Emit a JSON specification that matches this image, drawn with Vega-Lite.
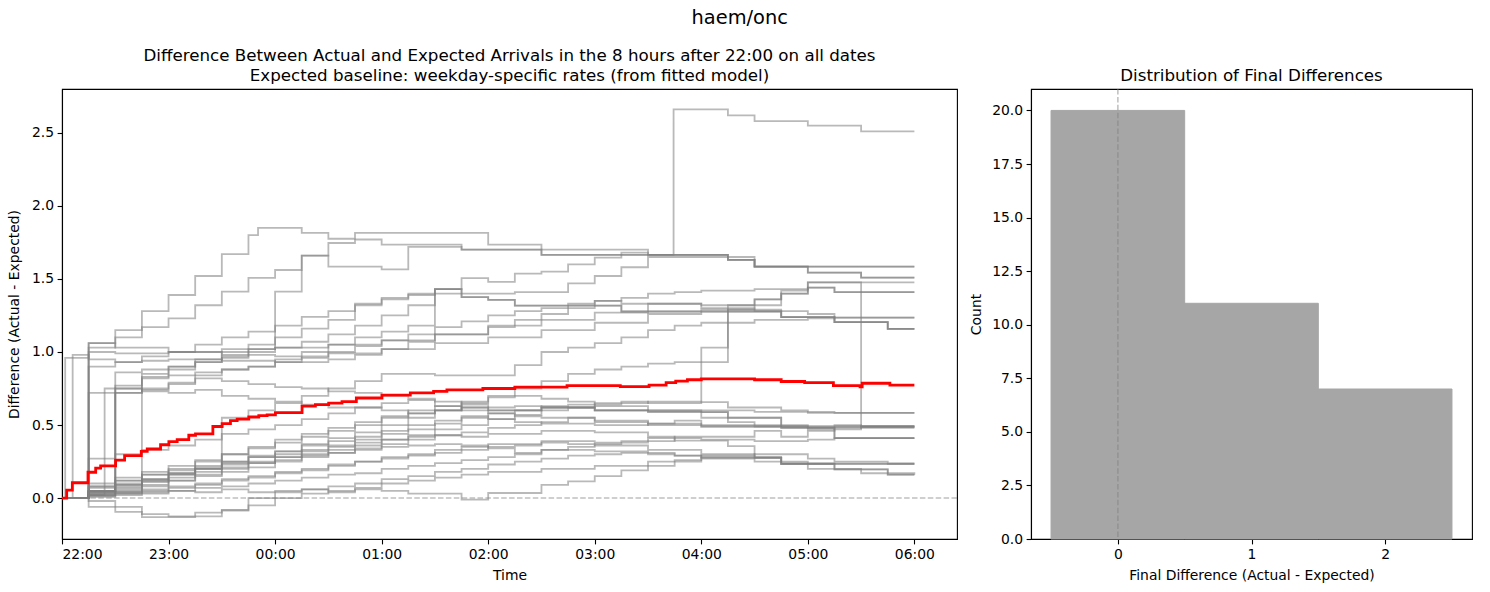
{
"$schema": "https://vega.github.io/schema/vega-lite/v6.json",
"padding": {"left": 6, "top": 8, "right": 18, "bottom": 6},
"bounds": "flush",
"spacing": 74,
"config": {
  "font": "DejaVu Sans",
  "view": {"stroke": "black", "strokeWidth": 1.1},
  "axis": {"grid": false, "domainColor": "black", "domainWidth": 1.1, "tickColor": "black", "tickWidth": 1.1, "tickSize": 4.9, "labelPadding": 3.5, "labelColor": "black", "titleColor": "black", "labelFontSize": 13.9, "titleFontSize": 13.9, "titleFontWeight": "normal", "labelFont": "DejaVu Sans", "titleFont": "DejaVu Sans"},
  "title": {"fontSize": 16.7, "fontWeight": "normal", "font": "DejaVu Sans", "color": "black"}
},
"title": {"text": "haem/onc", "fontSize": 19.4, "anchor": "middle", "fontWeight": "normal", "offset": 19},
"datasets": {
"days": [
{"d":1,"t":0,"v":0},{"d":1,"t":0.25,"v":1.06},{"d":1,"t":0.5,"v":1.15},{"d":1,"t":0.75,"v":1.28},{"d":1,"t":1,"v":1.39},{"d":1,"t":1.25,"v":1.52},{"d":1,"t":1.5,"v":1.67},{"d":1,"t":1.75,"v":1.8},{"d":1,"t":1.84,"v":1.85},{"d":1,"t":2.25,"v":1.815},{"d":1,"t":2.5,"v":1.775},{"d":1,"t":2.75,"v":1.815},{"d":1,"t":4,"v":1.735},{"d":1,"t":4.5,"v":1.7},{"d":1,"t":5.5,"v":1.665},{"d":1,"t":5.74,"v":2.66},{"d":1,"t":6.25,"v":2.62},{"d":1,"t":6.5,"v":2.58},{"d":1,"t":7,"v":2.55},{"d":1,"t":7.5,"v":2.51},{"d":1,"t":8,"v":2.51},
{"d":2,"t":0,"v":0},{"d":2,"t":0.25,"v":1.03},{"d":2,"t":0.5,"v":1.1},{"d":2,"t":0.75,"v":1.17},{"d":2,"t":1,"v":1.23},{"d":2,"t":1.25,"v":1.32},{"d":2,"t":1.5,"v":1.413},{"d":2,"t":1.75,"v":1.507},{"d":2,"t":2,"v":1.561},{"d":2,"t":2.25,"v":1.66},{"d":2,"t":2.5,"v":1.746},{"d":2,"t":2.75,"v":1.77},{"d":2,"t":3,"v":1.735},{"d":2,"t":3.75,"v":1.7},{"d":2,"t":4.5,"v":1.664},{"d":2,"t":6.25,"v":1.63},{"d":2,"t":6.5,"v":1.584},{"d":2,"t":8,"v":1.584},
{"d":3,"t":0,"v":0},{"d":3,"t":0.25,"v":0.72},{"d":3,"t":0.5,"v":0.77},{"d":3,"t":0.75,"v":0.83},{"d":3,"t":1,"v":0.88},{"d":3,"t":1.25,"v":0.93},{"d":3,"t":1.5,"v":0.97},{"d":3,"t":1.75,"v":1.02},{"d":3,"t":2,"v":1.413},{"d":3,"t":2.25,"v":1.66},{"d":3,"t":2.5,"v":1.584},{"d":3,"t":3,"v":1.565},{"d":3,"t":3.25,"v":1.72},{"d":3,"t":3.75,"v":1.7},{"d":3,"t":4.5,"v":1.664},{"d":3,"t":6.25,"v":1.63},{"d":3,"t":6.5,"v":1.584},{"d":3,"t":8,"v":1.584},
{"d":4,"t":0,"v":0},{"d":4,"t":0.25,"v":0.03},{"d":4,"t":0.5,"v":0.86},{"d":4,"t":0.75,"v":0.88},{"d":4,"t":1,"v":0.9},{"d":4,"t":1.25,"v":0.93},{"d":4,"t":1.5,"v":0.96},{"d":4,"t":1.75,"v":1.0},{"d":4,"t":2,"v":1.03},{"d":4,"t":2.25,"v":1.07},{"d":4,"t":2.5,"v":1.12},{"d":4,"t":2.75,"v":1.18},{"d":4,"t":3,"v":1.25},{"d":4,"t":3.25,"v":1.32},{"d":4,"t":3.5,"v":1.43},{"d":4,"t":3.75,"v":1.505},{"d":4,"t":4,"v":1.48},{"d":4,"t":4.25,"v":1.537},{"d":4,"t":4.5,"v":1.55},{"d":4,"t":4.75,"v":1.6},{"d":4,"t":5,"v":1.646},{"d":4,"t":5.25,"v":1.68},{"d":4,"t":5.5,"v":1.664},{"d":4,"t":6.25,"v":1.63},{"d":4,"t":6.5,"v":1.584},{"d":4,"t":7,"v":1.543},{"d":4,"t":7.5,"v":1.509},{"d":4,"t":8,"v":1.509},
{"d":5,"t":0,"v":0},{"d":5,"t":0.25,"v":0.04},{"d":5,"t":0.5,"v":0.75},{"d":5,"t":0.75,"v":0.85},{"d":5,"t":1,"v":0.9},{"d":5,"t":1.25,"v":0.95},{"d":5,"t":1.5,"v":1.0},{"d":5,"t":1.75,"v":1.05},{"d":5,"t":2,"v":1.1},{"d":5,"t":2.25,"v":1.16},{"d":5,"t":2.5,"v":1.22},{"d":5,"t":2.75,"v":1.32},{"d":5,"t":3,"v":1.37},{"d":5,"t":3.25,"v":1.39},{"d":5,"t":3.5,"v":1.4},{"d":5,"t":4.25,"v":1.41},{"d":5,"t":4.75,"v":1.47},{"d":5,"t":5,"v":1.52},{"d":5,"t":5.25,"v":1.58},{"d":5,"t":5.5,"v":1.65},{"d":5,"t":6.5,"v":1.584},{"d":5,"t":7,"v":1.543},{"d":5,"t":7.5,"v":1.509},{"d":5,"t":8,"v":1.509},
{"d":6,"t":0,"v":0},{"d":6,"t":0.25,"v":0.05},{"d":6,"t":0.5,"v":0.09},{"d":6,"t":0.75,"v":0.13},{"d":6,"t":1,"v":0.17},{"d":6,"t":1.25,"v":0.2},{"d":6,"t":1.5,"v":0.24},{"d":6,"t":1.75,"v":0.28},{"d":6,"t":2,"v":0.32},{"d":6,"t":2.25,"v":0.37},{"d":6,"t":2.5,"v":0.41},{"d":6,"t":2.75,"v":0.45},{"d":6,"t":3,"v":0.5},{"d":6,"t":3.25,"v":0.55},{"d":6,"t":3.5,"v":0.6},{"d":6,"t":3.75,"v":0.65},{"d":6,"t":4,"v":0.7},{"d":6,"t":4.25,"v":0.75},{"d":6,"t":4.5,"v":0.8},{"d":6,"t":4.75,"v":0.85},{"d":6,"t":5,"v":0.88},{"d":6,"t":5.25,"v":0.9},{"d":6,"t":5.5,"v":0.92},{"d":6,"t":5.75,"v":0.93},{"d":6,"t":6.25,"v":1.29},{"d":6,"t":6.5,"v":1.36},{"d":6,"t":6.75,"v":1.42},{"d":6,"t":7,"v":1.477},{"d":6,"t":8,"v":1.477},
{"d":7,"t":0,"v":0},{"d":7,"t":0.03,"v":0.96},{"d":7,"t":0.25,"v":1.0},{"d":7,"t":0.5,"v":0.99},{"d":7,"t":1,"v":1.0},{"d":7,"t":1.5,"v":1.02},{"d":7,"t":2,"v":1.03},{"d":7,"t":2.5,"v":1.05},{"d":7,"t":3,"v":1.08},{"d":7,"t":3.5,"v":1.12},{"d":7,"t":4,"v":1.18},{"d":7,"t":4.5,"v":1.22},{"d":7,"t":5,"v":1.27},{"d":7,"t":5.5,"v":1.33},{"d":7,"t":6,"v":1.32},{"d":7,"t":6.5,"v":1.36},{"d":7,"t":6.75,"v":1.4},{"d":7,"t":7,"v":1.44},{"d":7,"t":7.25,"v":1.41},{"d":7,"t":8,"v":1.41},
{"d":8,"t":0,"v":0},{"d":8,"t":0.1,"v":0.98},{"d":8,"t":0.25,"v":0.95},{"d":8,"t":0.5,"v":0.93},{"d":8,"t":0.75,"v":0.94},{"d":8,"t":1,"v":0.95},{"d":8,"t":1.5,"v":0.94},{"d":8,"t":2,"v":0.93},{"d":8,"t":2.5,"v":0.95},{"d":8,"t":2.75,"v":0.98},{"d":8,"t":3,"v":1.02},{"d":8,"t":3.25,"v":1.07},{"d":8,"t":3.5,"v":1.12},{"d":8,"t":4,"v":1.17},{"d":8,"t":4.25,"v":1.22},{"d":8,"t":4.5,"v":1.26},{"d":8,"t":4.75,"v":1.3},{"d":8,"t":5,"v":1.35},{"d":8,"t":5.25,"v":1.33},{"d":8,"t":6,"v":1.3},{"d":8,"t":6.5,"v":1.28},{"d":8,"t":7,"v":1.26},{"d":8,"t":7.25,"v":1.235},{"d":8,"t":8,"v":1.235},
{"d":9,"t":0,"v":0},{"d":9,"t":0.25,"v":0.9},{"d":9,"t":0.5,"v":0.93},{"d":9,"t":0.75,"v":0.97},{"d":9,"t":1,"v":1.0},{"d":9,"t":1.25,"v":1.05},{"d":9,"t":1.5,"v":1.1},{"d":9,"t":1.75,"v":1.14},{"d":9,"t":2,"v":1.18},{"d":9,"t":2.25,"v":1.24},{"d":9,"t":2.5,"v":1.28},{"d":9,"t":2.75,"v":1.33},{"d":9,"t":3,"v":1.36},{"d":9,"t":3.25,"v":1.4},{"d":9,"t":3.5,"v":1.43},{"d":9,"t":3.75,"v":1.375},{"d":9,"t":4,"v":1.357},{"d":9,"t":4.25,"v":1.318},{"d":9,"t":5.25,"v":1.277},{"d":9,"t":6.75,"v":1.238},{"d":9,"t":7.25,"v":1.204},{"d":9,"t":7.75,"v":1.158},{"d":9,"t":8,"v":1.158},
{"d":10,"t":0,"v":0},{"d":10,"t":0.25,"v":0.07},{"d":10,"t":0.5,"v":0.72},{"d":10,"t":0.75,"v":0.75},{"d":10,"t":1,"v":0.79},{"d":10,"t":1.25,"v":0.84},{"d":10,"t":1.5,"v":0.88},{"d":10,"t":1.75,"v":0.9},{"d":10,"t":2,"v":0.95},{"d":10,"t":2.25,"v":1.0},{"d":10,"t":2.5,"v":1.05},{"d":10,"t":2.75,"v":1.1},{"d":10,"t":3,"v":1.14},{"d":10,"t":3.25,"v":1.18},{"d":10,"t":3.5,"v":1.43},{"d":10,"t":3.75,"v":1.375},{"d":10,"t":4,"v":1.357},{"d":10,"t":4.25,"v":1.318},{"d":10,"t":5.25,"v":1.277},{"d":10,"t":6.75,"v":1.238},{"d":10,"t":7.25,"v":1.204},{"d":10,"t":7.75,"v":1.158},{"d":10,"t":8,"v":1.158},
{"d":11,"t":0,"v":0},{"d":11,"t":0.25,"v":0.02},{"d":11,"t":0.5,"v":0.05},{"d":11,"t":0.75,"v":0.08},{"d":11,"t":1,"v":0.12},{"d":11,"t":1.25,"v":0.16},{"d":11,"t":1.5,"v":0.2},{"d":11,"t":1.75,"v":0.24},{"d":11,"t":2,"v":0.28},{"d":11,"t":2.25,"v":0.3},{"d":11,"t":2.5,"v":0.33},{"d":11,"t":2.75,"v":0.36},{"d":11,"t":3,"v":0.4},{"d":11,"t":3.25,"v":0.43},{"d":11,"t":3.5,"v":0.47},{"d":11,"t":3.75,"v":0.5},{"d":11,"t":4,"v":0.54},{"d":11,"t":4.25,"v":0.57},{"d":11,"t":4.5,"v":0.6},{"d":11,"t":4.75,"v":0.62},{"d":11,"t":5,"v":0.64},{"d":11,"t":5.25,"v":0.66},{"d":11,"t":5.5,"v":0.65},{"d":11,"t":6,"v":1.03},{"d":11,"t":6.25,"v":1.32},{"d":11,"t":6.75,"v":1.4},{"d":11,"t":7,"v":1.477},{"d":11,"t":7.5,"v":0.49},{"d":11,"t":8,"v":0.49},
{"d":12,"t":0,"v":0},{"d":12,"t":0.25,"v":0.05},{"d":12,"t":0.5,"v":0.08},{"d":12,"t":0.75,"v":0.12},{"d":12,"t":1,"v":0.16},{"d":12,"t":1.25,"v":0.2},{"d":12,"t":1.5,"v":0.23},{"d":12,"t":1.75,"v":0.25},{"d":12,"t":2,"v":0.28},{"d":12,"t":2.25,"v":0.32},{"d":12,"t":2.5,"v":0.36},{"d":12,"t":2.75,"v":0.4},{"d":12,"t":3,"v":0.44},{"d":12,"t":3.25,"v":0.47},{"d":12,"t":3.5,"v":0.51},{"d":12,"t":3.75,"v":0.55},{"d":12,"t":4,"v":0.58},{"d":12,"t":4.25,"v":0.6},{"d":12,"t":4.5,"v":0.63},{"d":12,"t":4.75,"v":0.64},{"d":12,"t":5,"v":0.65},{"d":12,"t":5.5,"v":0.66},{"d":12,"t":6,"v":0.657},{"d":12,"t":6.25,"v":0.62},{"d":12,"t":6.75,"v":0.6},{"d":12,"t":7,"v":0.59},{"d":12,"t":7.25,"v":0.583},{"d":12,"t":8,"v":0.583},
{"d":13,"t":0,"v":0},{"d":13,"t":0.25,"v":0.08},{"d":13,"t":0.5,"v":0.12},{"d":13,"t":0.75,"v":0.16},{"d":13,"t":1,"v":0.2},{"d":13,"t":1.25,"v":0.25},{"d":13,"t":1.5,"v":0.3},{"d":13,"t":1.75,"v":0.35},{"d":13,"t":2,"v":0.38},{"d":13,"t":2.25,"v":0.42},{"d":13,"t":2.5,"v":0.46},{"d":13,"t":2.75,"v":0.5},{"d":13,"t":3,"v":0.55},{"d":13,"t":3.25,"v":0.58},{"d":13,"t":3.5,"v":0.6},{"d":13,"t":3.75,"v":0.62},{"d":13,"t":4,"v":0.6},{"d":13,"t":4.5,"v":0.62},{"d":13,"t":5,"v":0.6},{"d":13,"t":5.5,"v":0.59},{"d":13,"t":6,"v":0.588},{"d":13,"t":6.25,"v":0.55},{"d":13,"t":6.75,"v":0.48},{"d":13,"t":7.25,"v":0.41},{"d":13,"t":8,"v":0.41},
{"d":14,"t":0,"v":0},{"d":14,"t":0.25,"v":0.02},{"d":14,"t":0.4,"v":0.75},{"d":14,"t":0.75,"v":0.73},{"d":14,"t":1,"v":0.72},{"d":14,"t":1.25,"v":0.74},{"d":14,"t":1.5,"v":0.7},{"d":14,"t":1.75,"v":0.68},{"d":14,"t":2,"v":0.66},{"d":14,"t":2.25,"v":0.64},{"d":14,"t":2.5,"v":0.62},{"d":14,"t":3,"v":0.6},{"d":14,"t":3.25,"v":0.58},{"d":14,"t":3.5,"v":0.6},{"d":14,"t":3.75,"v":0.62},{"d":14,"t":4,"v":0.6},{"d":14,"t":4.5,"v":0.62},{"d":14,"t":5,"v":0.6},{"d":14,"t":5.5,"v":0.59},{"d":14,"t":6,"v":0.588},{"d":14,"t":6.25,"v":0.55},{"d":14,"t":6.75,"v":0.48},{"d":14,"t":7.25,"v":0.41},{"d":14,"t":8,"v":0.41},
{"d":15,"t":0,"v":0},{"d":15,"t":0.25,"v":0.05},{"d":15,"t":0.5,"v":0.1},{"d":15,"t":0.75,"v":0.13},{"d":15,"t":1,"v":0.17},{"d":15,"t":1.25,"v":0.21},{"d":15,"t":1.5,"v":0.25},{"d":15,"t":1.75,"v":0.29},{"d":15,"t":2,"v":0.32},{"d":15,"t":2.25,"v":0.36},{"d":15,"t":2.5,"v":0.39},{"d":15,"t":2.75,"v":0.42},{"d":15,"t":3,"v":0.46},{"d":15,"t":3.25,"v":0.5},{"d":15,"t":3.5,"v":0.53},{"d":15,"t":3.75,"v":0.56},{"d":15,"t":4,"v":0.54},{"d":15,"t":4.25,"v":0.52},{"d":15,"t":4.5,"v":0.51},{"d":15,"t":5,"v":0.5},{"d":15,"t":5.5,"v":0.51},{"d":15,"t":6,"v":0.49},{"d":15,"t":7,"v":0.48},{"d":15,"t":7.5,"v":0.49},{"d":15,"t":8,"v":0.49},
{"d":16,"t":0,"v":0},{"d":16,"t":0.25,"v":0.03},{"d":16,"t":0.5,"v":0.06},{"d":16,"t":0.75,"v":0.09},{"d":16,"t":1,"v":0.12},{"d":16,"t":1.25,"v":0.15},{"d":16,"t":1.5,"v":0.18},{"d":16,"t":1.75,"v":0.21},{"d":16,"t":2,"v":0.25},{"d":16,"t":2.25,"v":0.28},{"d":16,"t":2.5,"v":0.31},{"d":16,"t":2.75,"v":0.34},{"d":16,"t":3,"v":0.37},{"d":16,"t":3.25,"v":0.4},{"d":16,"t":3.5,"v":0.43},{"d":16,"t":3.75,"v":0.45},{"d":16,"t":4,"v":0.48},{"d":16,"t":4.25,"v":0.5},{"d":16,"t":4.5,"v":0.52},{"d":16,"t":4.75,"v":0.55},{"d":16,"t":5,"v":0.53},{"d":16,"t":5.5,"v":0.51},{"d":16,"t":5.75,"v":0.53},{"d":16,"t":6,"v":0.5},{"d":16,"t":6.5,"v":0.49},{"d":16,"t":7,"v":0.47},{"d":16,"t":7.5,"v":0.49},{"d":16,"t":8,"v":0.49},
{"d":17,"t":0,"v":0},{"d":17,"t":0.25,"v":0.27},{"d":17,"t":0.5,"v":0.3},{"d":17,"t":0.75,"v":0.33},{"d":17,"t":1,"v":0.36},{"d":17,"t":1.25,"v":0.4},{"d":17,"t":1.5,"v":0.44},{"d":17,"t":1.75,"v":0.47},{"d":17,"t":2,"v":0.5},{"d":17,"t":2.25,"v":0.54},{"d":17,"t":2.5,"v":0.58},{"d":17,"t":2.75,"v":0.62},{"d":17,"t":3,"v":0.65},{"d":17,"t":3.25,"v":0.67},{"d":17,"t":3.5,"v":0.63},{"d":17,"t":3.75,"v":0.6},{"d":17,"t":4,"v":0.58},{"d":17,"t":4.25,"v":0.56},{"d":17,"t":4.5,"v":0.55},{"d":17,"t":5,"v":0.52},{"d":17,"t":5.5,"v":0.5},{"d":17,"t":6,"v":0.49},{"d":17,"t":8,"v":0.49},
{"d":18,"t":0,"v":0},{"d":18,"t":0.25,"v":0.01},{"d":18,"t":0.5,"v":0.03},{"d":18,"t":0.75,"v":0.05},{"d":18,"t":1,"v":0.07},{"d":18,"t":1.25,"v":0.09},{"d":18,"t":1.5,"v":0.12},{"d":18,"t":1.75,"v":0.14},{"d":18,"t":2,"v":0.17},{"d":18,"t":2.25,"v":0.19},{"d":18,"t":2.5,"v":0.22},{"d":18,"t":2.75,"v":0.25},{"d":18,"t":3,"v":0.28},{"d":18,"t":3.25,"v":0.3},{"d":18,"t":3.5,"v":0.33},{"d":18,"t":3.75,"v":0.35},{"d":18,"t":4,"v":0.37},{"d":18,"t":4.5,"v":0.39},{"d":18,"t":5,"v":0.38},{"d":18,"t":5.5,"v":0.39},{"d":18,"t":5.75,"v":0.42},{"d":18,"t":6.5,"v":0.46},{"d":18,"t":6.75,"v":0.42},{"d":18,"t":7,"v":0.46},{"d":18,"t":7.25,"v":0.5},{"d":18,"t":7.5,"v":0.48},{"d":18,"t":8,"v":0.48},
{"d":19,"t":0,"v":0},{"d":19,"t":0.25,"v":0.08},{"d":19,"t":0.5,"v":0.12},{"d":19,"t":0.75,"v":0.16},{"d":19,"t":1,"v":0.19},{"d":19,"t":1.25,"v":0.22},{"d":19,"t":1.5,"v":0.25},{"d":19,"t":1.75,"v":0.28},{"d":19,"t":2,"v":0.3},{"d":19,"t":2.25,"v":0.33},{"d":19,"t":2.5,"v":0.35},{"d":19,"t":2.75,"v":0.38},{"d":19,"t":3,"v":0.4},{"d":19,"t":3.25,"v":0.42},{"d":19,"t":3.5,"v":0.43},{"d":19,"t":3.75,"v":0.42},{"d":19,"t":4,"v":0.44},{"d":19,"t":4.5,"v":0.46},{"d":19,"t":5,"v":0.45},{"d":19,"t":5.5,"v":0.42},{"d":19,"t":5.75,"v":0.394},{"d":19,"t":6.25,"v":0.355},{"d":19,"t":6.5,"v":0.276},{"d":19,"t":6.75,"v":0.235},{"d":19,"t":8,"v":0.235},
{"d":20,"t":0,"v":0},{"d":20,"t":0.25,"v":0.04},{"d":20,"t":0.5,"v":0.07},{"d":20,"t":0.75,"v":0.11},{"d":20,"t":1,"v":0.14},{"d":20,"t":1.25,"v":0.18},{"d":20,"t":1.5,"v":0.21},{"d":20,"t":1.75,"v":0.24},{"d":20,"t":2,"v":0.26},{"d":20,"t":2.25,"v":0.29},{"d":20,"t":2.5,"v":0.31},{"d":20,"t":2.75,"v":0.33},{"d":20,"t":3,"v":0.35},{"d":20,"t":3.25,"v":0.36},{"d":20,"t":3.5,"v":0.37},{"d":20,"t":3.75,"v":0.36},{"d":20,"t":4,"v":0.34},{"d":20,"t":4.25,"v":0.31},{"d":20,"t":4.5,"v":0.33},{"d":20,"t":5,"v":0.32},{"d":20,"t":5.5,"v":0.31},{"d":20,"t":5.75,"v":0.29},{"d":20,"t":6,"v":0.276},{"d":20,"t":6.75,"v":0.235},{"d":20,"t":8,"v":0.235},
{"d":21,"t":0,"v":0},{"d":21,"t":0.25,"v":-0.06},{"d":21,"t":0.5,"v":-0.095},{"d":21,"t":0.75,"v":-0.13},{"d":21,"t":1.25,"v":-0.125},{"d":21,"t":1.5,"v":-0.085},{"d":21,"t":1.75,"v":0},{"d":21,"t":2,"v":0.04},{"d":21,"t":2.25,"v":0.06},{"d":21,"t":2.5,"v":0.08},{"d":21,"t":2.75,"v":0.1},{"d":21,"t":3,"v":0.13},{"d":21,"t":3.25,"v":0.15},{"d":21,"t":3.5,"v":0.18},{"d":21,"t":3.75,"v":0.2},{"d":21,"t":4,"v":0.23},{"d":21,"t":4.25,"v":0.25},{"d":21,"t":4.5,"v":0.27},{"d":21,"t":4.75,"v":0.29},{"d":21,"t":5,"v":0.3},{"d":21,"t":5.25,"v":0.31},{"d":21,"t":5.5,"v":0.3},{"d":21,"t":5.75,"v":0.29},{"d":21,"t":6,"v":0.28},{"d":21,"t":6.75,"v":0.235},{"d":21,"t":7.25,"v":0.196},{"d":21,"t":7.75,"v":0.16},{"d":21,"t":8,"v":0.16},
{"d":22,"t":0,"v":0},{"d":22,"t":0.25,"v":0.02},{"d":22,"t":0.5,"v":0.04},{"d":22,"t":0.75,"v":0.06},{"d":22,"t":1,"v":0.08},{"d":22,"t":1.25,"v":0.1},{"d":22,"t":1.5,"v":0.13},{"d":22,"t":1.75,"v":0.15},{"d":22,"t":2,"v":0.18},{"d":22,"t":2.25,"v":0.2},{"d":22,"t":2.5,"v":0.23},{"d":22,"t":2.75,"v":0.25},{"d":22,"t":3,"v":0.27},{"d":22,"t":3.25,"v":0.29},{"d":22,"t":3.5,"v":0.31},{"d":22,"t":3.75,"v":0.33},{"d":22,"t":4,"v":0.35},{"d":22,"t":4.25,"v":0.36},{"d":22,"t":4.5,"v":0.38},{"d":22,"t":4.75,"v":0.37},{"d":22,"t":5,"v":0.36},{"d":22,"t":5.5,"v":0.33},{"d":22,"t":6,"v":0.3},{"d":22,"t":6.5,"v":0.276},{"d":22,"t":6.75,"v":0.235},{"d":22,"t":7.25,"v":0.196},{"d":22,"t":7.75,"v":0.16},{"d":22,"t":8,"v":0.16},
{"d":23,"t":0,"v":0},{"d":23,"t":0.25,"v":0.02},{"d":23,"t":0.5,"v":0.03},{"d":23,"t":0.75,"v":0.04},{"d":23,"t":1,"v":0.05},{"d":23,"t":1.25,"v":0.04},{"d":23,"t":1.5,"v":0.06},{"d":23,"t":1.75,"v":0.04},{"d":23,"t":2,"v":0.05},{"d":23,"t":2.25,"v":0.06},{"d":23,"t":2.5,"v":0.04},{"d":23,"t":2.75,"v":0.06},{"d":23,"t":3,"v":0.05},{"d":23,"t":3.25,"v":0.03},{"d":23,"t":3.75,"v":-0.01},{"d":23,"t":4,"v":0.035},{"d":23,"t":4.5,"v":0.09},{"d":23,"t":4.75,"v":0.115},{"d":23,"t":5,"v":0.15},{"d":23,"t":5.25,"v":0.19},{"d":23,"t":5.5,"v":0.22},{"d":23,"t":5.75,"v":0.26},{"d":23,"t":6,"v":0.29},{"d":23,"t":6.5,"v":0.3},{"d":23,"t":7,"v":0.27},{"d":23,"t":7.25,"v":0.25},{"d":23,"t":7.75,"v":0.235},{"d":23,"t":8,"v":0.235},
{"d":24,"t":0,"v":0},{"d":24,"t":0.25,"v":0.01},{"d":24,"t":0.5,"v":0.02},{"d":24,"t":0.75,"v":0.03},{"d":24,"t":1,"v":0.05},{"d":24,"t":1.25,"v":0.07},{"d":24,"t":1.5,"v":0.08},{"d":24,"t":1.75,"v":0.1},{"d":24,"t":2,"v":0.12},{"d":24,"t":2.25,"v":0.14},{"d":24,"t":2.5,"v":0.16},{"d":24,"t":2.75,"v":0.17},{"d":24,"t":3,"v":0.2},{"d":24,"t":3.25,"v":0.22},{"d":24,"t":3.5,"v":0.24},{"d":24,"t":3.75,"v":0.26},{"d":24,"t":4,"v":0.28},{"d":24,"t":4.25,"v":0.3},{"d":24,"t":4.5,"v":0.33},{"d":24,"t":4.75,"v":0.35},{"d":24,"t":5,"v":0.37},{"d":24,"t":5.25,"v":0.39},{"d":24,"t":5.5,"v":0.41},{"d":24,"t":6,"v":0.4},{"d":24,"t":6.5,"v":0.39},{"d":24,"t":7,"v":0.4},{"d":24,"t":7.25,"v":0.41},{"d":24,"t":8,"v":0.41},
{"d":25,"t":0,"v":0},{"d":25,"t":0.25,"v":0.05},{"d":25,"t":0.5,"v":0.72},{"d":25,"t":0.75,"v":0.74},{"d":25,"t":1,"v":0.78},{"d":25,"t":1.25,"v":0.82},{"d":25,"t":1.5,"v":0.8},{"d":25,"t":1.75,"v":0.78},{"d":25,"t":2,"v":0.76},{"d":25,"t":2.25,"v":0.75},{"d":25,"t":2.5,"v":0.73},{"d":25,"t":2.75,"v":0.72},{"d":25,"t":3,"v":0.7},{"d":25,"t":3.25,"v":0.68},{"d":25,"t":3.5,"v":0.66},{"d":25,"t":3.75,"v":0.64},{"d":25,"t":4,"v":0.62},{"d":25,"t":4.25,"v":0.63},{"d":25,"t":4.5,"v":0.62},{"d":25,"t":5,"v":0.6},{"d":25,"t":6,"v":0.6},{"d":25,"t":6.5,"v":0.59},{"d":25,"t":7,"v":0.583},{"d":25,"t":8,"v":0.583},
{"d":26,"t":0,"v":0},{"d":26,"t":0.25,"v":0.05},{"d":26,"t":0.5,"v":0.09},{"d":26,"t":0.75,"v":0.12},{"d":26,"t":1,"v":0.16},{"d":26,"t":1.25,"v":0.2},{"d":26,"t":1.5,"v":0.55},{"d":26,"t":1.75,"v":0.6},{"d":26,"t":2,"v":0.65},{"d":26,"t":2.25,"v":0.7},{"d":26,"t":2.5,"v":0.75},{"d":26,"t":2.75,"v":0.8},{"d":26,"t":3,"v":0.85},{"d":26,"t":3.5,"v":0.84},{"d":26,"t":4.25,"v":0.91},{"d":26,"t":4.5,"v":1.0},{"d":26,"t":4.75,"v":1.03},{"d":26,"t":5,"v":1.06},{"d":26,"t":5.25,"v":1.1},{"d":26,"t":5.5,"v":1.15},{"d":26,"t":5.75,"v":1.18},{"d":26,"t":6,"v":1.2},{"d":26,"t":6.5,"v":1.22},{"d":26,"t":7,"v":1.23},{"d":26,"t":7.25,"v":1.235},{"d":26,"t":8,"v":1.235},
{"d":27,"t":0,"v":0},{"d":27,"t":0.25,"v":1.06},{"d":27,"t":0.5,"v":1.03},{"d":27,"t":1,"v":1.0},{"d":27,"t":1.5,"v":0.98},{"d":27,"t":2,"v":0.97},{"d":27,"t":2.5,"v":0.99},{"d":27,"t":3,"v":1.02},{"d":27,"t":3.5,"v":1.06},{"d":27,"t":4,"v":1.1},{"d":27,"t":4.5,"v":1.15},{"d":27,"t":5,"v":1.2},{"d":27,"t":5.5,"v":1.26},{"d":27,"t":6,"v":1.29},{"d":27,"t":6.75,"v":1.238},{"d":27,"t":7.25,"v":1.204},{"d":27,"t":7.75,"v":1.158},{"d":27,"t":8,"v":1.158},
{"d":28,"t":0,"v":0},{"d":28,"t":0.25,"v":0.1},{"d":28,"t":0.5,"v":0.14},{"d":28,"t":0.75,"v":0.18},{"d":28,"t":1,"v":0.22},{"d":28,"t":1.25,"v":0.26},{"d":28,"t":1.5,"v":0.3},{"d":28,"t":1.75,"v":0.34},{"d":28,"t":2,"v":0.4},{"d":28,"t":2.25,"v":0.44},{"d":28,"t":2.5,"v":0.48},{"d":28,"t":2.75,"v":0.52},{"d":28,"t":3,"v":0.56},{"d":28,"t":3.25,"v":0.6},{"d":28,"t":3.5,"v":0.63},{"d":28,"t":3.75,"v":0.66},{"d":28,"t":4,"v":0.69},{"d":28,"t":4.25,"v":0.7},{"d":28,"t":4.5,"v":0.68},{"d":28,"t":4.75,"v":0.66},{"d":28,"t":5,"v":0.63},{"d":28,"t":5.5,"v":0.6},{"d":28,"t":6,"v":0.55},{"d":28,"t":6.25,"v":0.52},{"d":28,"t":6.5,"v":0.5},{"d":28,"t":7,"v":0.49},{"d":28,"t":8,"v":0.49},
{"d":29,"t":0,"v":0},{"d":29,"t":0.25,"v":-0.02},{"d":29,"t":0.5,"v":-0.06},{"d":29,"t":0.75,"v":-0.11},{"d":29,"t":1,"v":-0.125},{"d":29,"t":1.25,"v":-0.1},{"d":29,"t":1.5,"v":-0.08},{"d":29,"t":1.75,"v":-0.05},{"d":29,"t":2,"v":0},{"d":29,"t":2.25,"v":0.03},{"d":29,"t":2.5,"v":0.05},{"d":29,"t":2.75,"v":0.07},{"d":29,"t":3,"v":0.1},{"d":29,"t":3.25,"v":0.12},{"d":29,"t":3.5,"v":0.14},{"d":29,"t":3.75,"v":0.16},{"d":29,"t":4,"v":0.18},{"d":29,"t":4.5,"v":0.2},{"d":29,"t":5,"v":0.22},{"d":29,"t":5.5,"v":0.25},{"d":29,"t":6,"v":0.27},{"d":29,"t":6.5,"v":0.25},{"d":29,"t":7,"v":0.2},{"d":29,"t":7.5,"v":0.17},{"d":29,"t":8,"v":0.16},
{"d":30,"t":0,"v":0},{"d":30,"t":0.25,"v":0.04},{"d":30,"t":0.75,"v":0.82},{"d":30,"t":1,"v":0.84},{"d":30,"t":1.25,"v":0.86},{"d":30,"t":1.5,"v":0.88},{"d":30,"t":1.75,"v":0.9},{"d":30,"t":2,"v":0.93},{"d":30,"t":2.25,"v":0.96},{"d":30,"t":2.5,"v":1.0},{"d":30,"t":2.75,"v":1.04},{"d":30,"t":3,"v":1.08},{"d":30,"t":3.25,"v":1.12},{"d":30,"t":3.5,"v":1.17},{"d":30,"t":3.75,"v":1.21},{"d":30,"t":4,"v":1.25},{"d":30,"t":4.25,"v":1.28},{"d":30,"t":4.5,"v":1.3},{"d":30,"t":4.75,"v":1.33},{"d":30,"t":5,"v":1.35},{"d":30,"t":5.25,"v":1.37},{"d":30,"t":5.5,"v":1.4},{"d":30,"t":5.75,"v":1.41},{"d":30,"t":6,"v":1.42},{"d":30,"t":6.5,"v":1.43},{"d":30,"t":7,"v":1.44},{"d":30,"t":7.25,"v":1.41},{"d":30,"t":8,"v":1.41}
],
"avg": [
{"t":0,"v":0},{"t":0.044,"v":0.055},{"t":0.097,"v":0.105},{"t":0.244,"v":0.177},{"t":0.316,"v":0.205},{"t":0.3625,"v":0.22},{"t":0.503,"v":0.26},{"t":0.5875,"v":0.29},{"t":0.744,"v":0.32},{"t":0.8,"v":0.336},{"t":0.925,"v":0.365},{"t":1.003,"v":0.386},{"t":1.081,"v":0.4},{"t":1.19,"v":0.43},{"t":1.253,"v":0.44},{"t":1.416,"v":0.49},{"t":1.503,"v":0.51},{"t":1.581,"v":0.53},{"t":1.644,"v":0.54},{"t":1.753,"v":0.555},{"t":1.847,"v":0.565},{"t":1.925,"v":0.57},{"t":2.003,"v":0.585},{"t":2.253,"v":0.63},{"t":2.378,"v":0.64},{"t":2.503,"v":0.65},{"t":2.628,"v":0.66},{"t":2.7625,"v":0.685},{"t":3.003,"v":0.705},{"t":3.269,"v":0.72},{"t":3.4875,"v":0.73},{"t":3.6125,"v":0.74},{"t":3.95,"v":0.75},{"t":4.25,"v":0.759},{"t":4.74,"v":0.77},{"t":5.24,"v":0.763},{"t":5.51,"v":0.773},{"t":5.67,"v":0.79},{"t":5.76,"v":0.8},{"t":5.87,"v":0.81},{"t":6.0,"v":0.816},{"t":6.5,"v":0.81},{"t":6.75,"v":0.798},{"t":6.97,"v":0.79},{"t":7.24,"v":0.77},{"t":7.49,"v":0.762},{"t":7.51,"v":0.786},{"t":7.77,"v":0.773},{"t":8,"v":0.773}
],
"hist": [{"lo":-0.5,"hi":0.5,"n":20},{"lo":0.5,"hi":1.5,"n":11},{"lo":1.5,"hi":2.5,"n":7}]
},
"hconcat": [
{
  "width": 895, "height": 450,
  "title": {"text": ["Difference Between Actual and Expected Arrivals in the 8 hours after 22:00 on all dates", "Expected baseline: weekday-specific rates (from fitted model)"], "frame": "group", "anchor": "middle", "lineHeight": 20, "offset": 4},
  "layer": [
    {"data": {"name": "days"}, "mark": {"type": "line", "interpolate": "step-after", "stroke": "#808080", "strokeOpacity": 0.55, "strokeWidth": 1.8},
     "encoding": {
       "x": {"field": "t", "type": "quantitative", "scale": {"domain": [0, 8.4], "nice": false, "zero": false},
             "axis": {"values": [0,1,2,3,4,5,6,7,8], "labelExpr": "(((datum.value+22)%24) < 10 ? '0' : '') + ((datum.value+22)%24) + ':00'", "title": "Time", "titlePadding": 7}},
       "y": {"field": "v", "type": "quantitative", "scale": {"domain": [-0.28, 2.8], "nice": false, "zero": false},
             "axis": {"values": [0,0.5,1,1.5,2,2.5], "format": ".1f", "title": "Difference (Actual - Expected)", "titlePadding": 10}},
       "detail": {"field": "d", "type": "nominal"}
     }},
    {"data": {"values": [{"y": 0}]}, "mark": {"type": "rule", "stroke": "#808080", "strokeOpacity": 0.5, "strokeDash": [5.5, 2.4], "strokeWidth": 1.5},
     "encoding": {"y": {"field": "y", "type": "quantitative"}}},
    {"data": {"name": "avg"}, "mark": {"type": "line", "interpolate": "step-after", "stroke": "#ff0000", "strokeWidth": 2.8},
     "encoding": {"x": {"field": "t", "type": "quantitative"}, "y": {"field": "v", "type": "quantitative"}}}
  ]
},
{
  "width": 441, "height": 450,
  "title": {"text": "Distribution of Final Differences", "frame": "group", "anchor": "middle", "offset": 4},
  "layer": [
    {"data": {"name": "hist"}, "mark": {"type": "rect", "fill": "#a6a6a6", "stroke": "#a6a6a6", "strokeWidth": 1},
     "encoding": {
       "x": {"field": "lo", "type": "quantitative", "scale": {"domain": [-0.65, 2.65], "nice": false, "zero": false},
             "axis": {"values": [0,1,2], "format": "d", "title": "Final Difference (Actual - Expected)", "titlePadding": 7}},
       "x2": {"field": "hi"},
       "y": {"field": "n", "type": "quantitative", "scale": {"domain": [0, 21], "nice": false},
             "axis": {"values": [0,2.5,5,7.5,10,12.5,15,17.5,20], "format": ".1f", "title": "Count", "titlePadding": 8}},
       "y2": {"datum": 0}
     }},
    {"data": {"values": [{"x": 0}]}, "mark": {"type": "rule", "stroke": "#808080", "strokeOpacity": 0.5, "strokeDash": [5.5, 2.4], "strokeWidth": 1.5},
     "encoding": {"x": {"field": "x", "type": "quantitative"}}}
  ]
}
]
}
